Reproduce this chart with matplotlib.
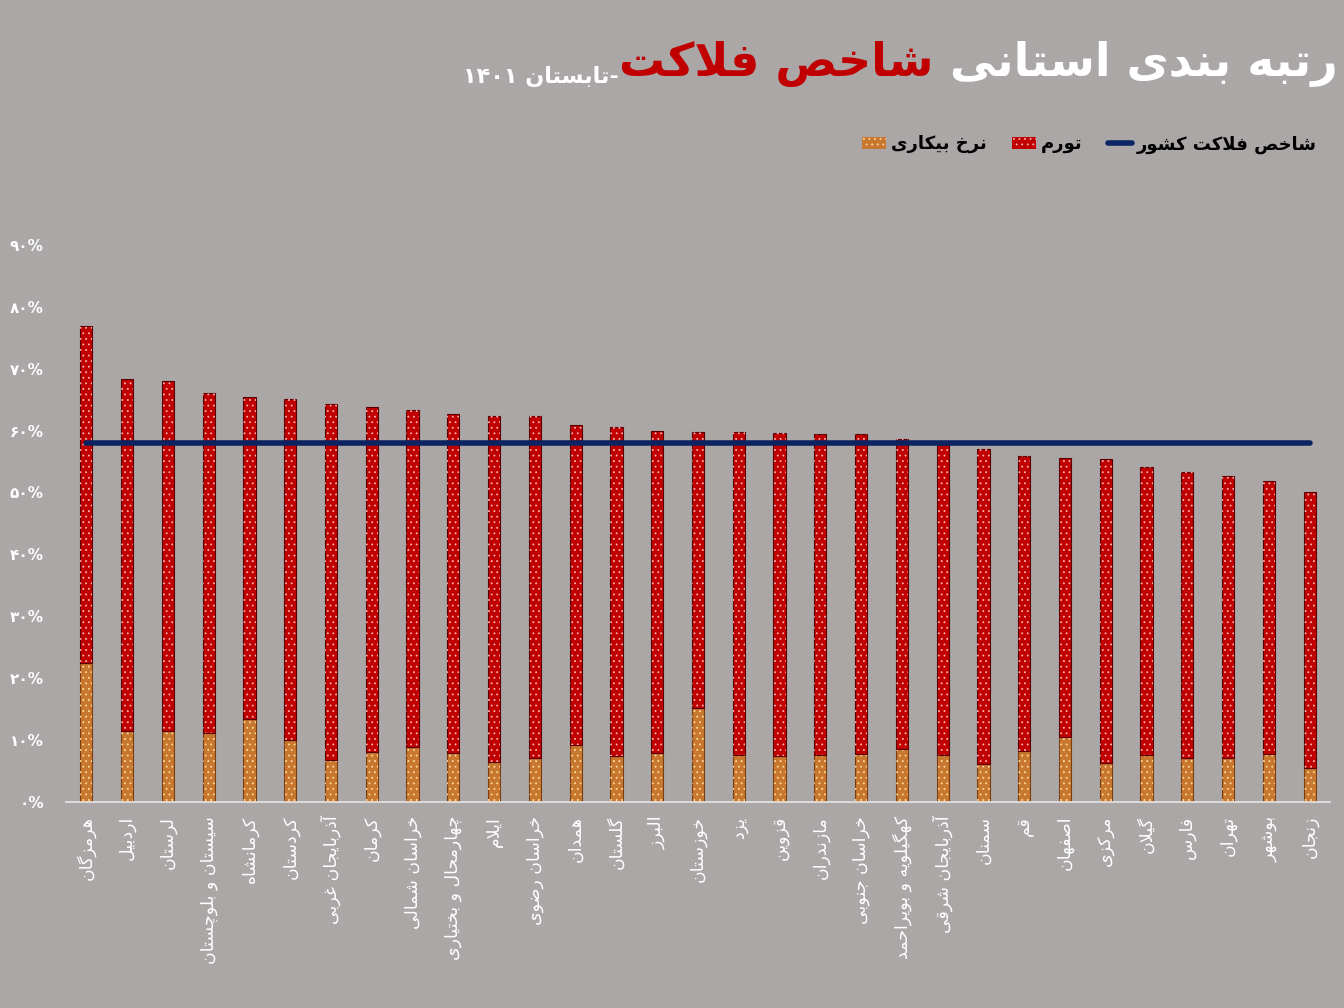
import re
import matplotlib
matplotlib.use("Agg")
import matplotlib.pyplot as plt
import matplotlib.patches as mpatches
import matplotlib.lines as mlines
import numpy as np

# داده ها
provinces = ["هرمزگان", "اردبیل", "لرستان", "سیستان و بلوچستان", "کرمانشاه", "کردستان",
             "آذربایجان غربی", "کرمان", "خراسان شمالی", "چهارمحال و بختیاری", "ایلام",
             "خراسان رضوی", "همدان", "گلستان", "البرز", "خوزستان", "یزد", "قزوین",
             "مازندران", "خراسان جنوبی", "کهگیلویه و بویراحمد", "آذربایجان شرقی", "سمنان",
             "قم", "اصفهان", "مرکزی", "گیلان", "فارس", "تهران", "بوشهر", "زنجان"]
unemployment = [22.5, 11.5, 11.5, 11.1, 13.4, 10.0, 6.8, 8.1, 8.9, 7.9, 6.5, 7.1, 9.2, 7.4,
                7.9, 15.2, 7.6, 7.4, 7.6, 7.8, 8.6, 7.6, 6.1, 8.2, 10.5, 6.3, 7.6, 7.1, 7.1,
                7.8, 5.5]
inflation = [54.4, 56.8, 56.5, 55.0, 52.0, 55.1, 57.5, 55.7, 54.4, 54.8, 55.9, 55.3, 51.7,
             53.2, 52.0, 44.6, 52.2, 52.2, 51.9, 51.7, 50.0, 50.0, 50.9, 47.7, 45.1, 49.1,
             46.5, 46.2, 45.6, 44.1, 44.6]
national = 58.0
yticks = [0, 10, 20, 30, 40, 50, 60, 70, 80, 90]

# شکل دادن حروف فارسی (matplotlib خودش این کار را نمی کند)
FORMS = {
    'ا': (0xFE8D, 0xFE8E), 'آ': (0xFE81, 0xFE82), 'د': (0xFEA9, 0xFEAA), 'ذ': (0xFEAB, 0xFEAC),
    'ر': (0xFEAD, 0xFEAE), 'ز': (0xFEAF, 0xFEB0), 'ژ': (0xFB8A, 0xFB8B), 'و': (0xFEED, 0xFEEE),
    'ب': (0xFE8F, 0xFE90, 0xFE91, 0xFE92), 'پ': (0xFB56, 0xFB57, 0xFB58, 0xFB59),
    'ت': (0xFE95, 0xFE96, 0xFE97, 0xFE98), 'ث': (0xFE99, 0xFE9A, 0xFE9B, 0xFE9C),
    'ج': (0xFE9D, 0xFE9E, 0xFE9F, 0xFEA0), 'چ': (0xFB7A, 0xFB7B, 0xFB7C, 0xFB7D),
    'ح': (0xFEA1, 0xFEA2, 0xFEA3, 0xFEA4), 'خ': (0xFEA5, 0xFEA6, 0xFEA7, 0xFEA8),
    'س': (0xFEB1, 0xFEB2, 0xFEB3, 0xFEB4), 'ش': (0xFEB5, 0xFEB6, 0xFEB7, 0xFEB8),
    'ص': (0xFEB9, 0xFEBA, 0xFEBB, 0xFEBC), 'ض': (0xFEBD, 0xFEBE, 0xFEBF, 0xFEC0),
    'ط': (0xFEC1, 0xFEC2, 0xFEC3, 0xFEC4), 'ظ': (0xFEC5, 0xFEC6, 0xFEC7, 0xFEC8),
    'ع': (0xFEC9, 0xFECA, 0xFECB, 0xFECC), 'غ': (0xFECD, 0xFECE, 0xFECF, 0xFED0),
    'ف': (0xFED1, 0xFED2, 0xFED3, 0xFED4), 'ق': (0xFED5, 0xFED6, 0xFED7, 0xFED8),
    'ک': (0xFB8E, 0xFB8F, 0xFB90, 0xFB91), 'گ': (0xFB92, 0xFB93, 0xFB94, 0xFB95),
    'ل': (0xFEDD, 0xFEDE, 0xFEDF, 0xFEE0), 'م': (0xFEE1, 0xFEE2, 0xFEE3, 0xFEE4),
    'ن': (0xFEE5, 0xFEE6, 0xFEE7, 0xFEE8), 'ه': (0xFEE9, 0xFEEA, 0xFEEB, 0xFEEC),
    'ی': (0xFBFC, 0xFBFD, 0xFBFE, 0xFBFF), 'ئ': (0xFE89, 0xFE8A, 0xFE8B, 0xFE8C),
}
LAM_ALEF = {'ا': (0xFEFB, 0xFEFC), 'آ': (0xFEF5, 0xFEF6)}


def fa(text):
    out = []
    i = 0
    prev_joins = False
    n = len(text)
    while i < n:
        c = text[i]
        if c not in FORMS:
            out.append(c)
            prev_joins = False
            i += 1
            continue
        if c == 'ل' and i + 1 < n and text[i + 1] in LAM_ALEF:
            f = LAM_ALEF[text[i + 1]]
            out.append(chr(f[1] if prev_joins else f[0]))
            prev_joins = False
            i += 2
            continue
        forms = FORMS[c]
        nxt = text[i + 1] if i + 1 < n else ''
        next_joins = len(forms) == 4 and nxt in FORMS
        if len(forms) == 2:
            out.append(chr(forms[1] if prev_joins else forms[0]))
        else:
            if prev_joins and next_joins:
                out.append(chr(forms[3]))
            elif prev_joins:
                out.append(chr(forms[1]))
            elif next_joins:
                out.append(chr(forms[2]))
            else:
                out.append(chr(forms[0]))
        prev_joins = len(forms) == 4
        i += 1
    s = ''.join(out)[::-1]
    return re.sub(r'[0-9۰-۹%]+', lambda m: m.group()[::-1], s)


def fa_digits(s):
    return s.translate(str.maketrans('0123456789', '۰۱۲۳۴۵۶۷۸۹'))


bg = '#aba7a7'
red = '#c00000'
orange = '#c8772e'

plt.rcParams['font.family'] = ['DejaVu Sans']
plt.rcParams['hatch.linewidth'] = 0.6

fig = plt.figure(figsize=(13.44, 10.08), dpi=100, facecolor=bg)
ax = fig.add_axes([0.0491, 0.2044, 0.9405, 0.6141])
ax.set_facecolor(bg)

x = np.arange(len(provinces))
w = 0.3
ax.bar(x, unemployment, w, color=orange, edgecolor='#7a3e10', linewidth=0.8)
ax.bar(x, unemployment, w, color='none', edgecolor='#ffd9a0', linewidth=0, hatch='...')
ax.bar(x, inflation, w, bottom=unemployment, color=red, edgecolor='#5a0000', linewidth=0.8)
ax.bar(x, inflation, w, bottom=unemployment, color='none', edgecolor='#ffb0b0',
       linewidth=0, hatch='...')

ax.plot([x[0], x[-1]], [national, national], color='#0b2461', lw=4,
        solid_capstyle='round', zorder=5)

ax.set_xlim(-0.5, len(provinces) - 0.5)
ax.set_ylim(0, 100)
ax.set_yticks(yticks)
ax.set_yticklabels([fa_digits(str(v)) + '%' for v in yticks], color='white',
                   fontsize=11, fontweight='bold')
ax.set_xticks(x)
ax.set_xticklabels([fa(p) for p in provinces], rotation=90, color='white', fontsize=12.5)
ax.tick_params(axis='y', length=0, pad=16)
ax.tick_params(axis='x', length=0, pad=10)
for s in ['top', 'right', 'left']:
    ax.spines[s].set_visible(False)
ax.spines['bottom'].set_color('#e6e6e6')
ax.spines['bottom'].set_linewidth(1.2)

# عنوان
t1 = fig.text(0.995, 0.925, fa('رتبه بندی استانی'), color='white', fontsize=33,
              fontweight='bold', ha='right', va='baseline')
t2 = ax.annotate(fa(' شاخص فلاکت'), xy=(0, 0), xycoords=t1, color=red, fontsize=33,
                 fontweight='bold', ha='right', va='bottom', annotation_clip=False)
t3 = ax.annotate(fa('-تابستان ۱۴۰۱'), xy=(0, 0), xycoords=t2, color='white', fontsize=16,
                 fontweight='bold', ha='right', va='bottom', annotation_clip=False)

# راهنما
h_un = mpatches.Patch(facecolor=orange, edgecolor='#ffd9a0', hatch='...', linewidth=0)
h_in = mpatches.Patch(facecolor=red, edgecolor='#ffb0b0', hatch='...', linewidth=0)
h_ln = mlines.Line2D([], [], color='#0b2461', lw=4, solid_capstyle='round')
fig.legend([h_un, h_in, h_ln], [fa('نرخ بیکاری'), fa('تورم'), fa('شاخص فلاکت کشور')],
           loc='upper right', bbox_to_anchor=(0.992, 0.882), ncol=3, frameon=False,
           handlelength=1.3, handletextpad=0.3, columnspacing=1.4,
           prop={'size': 13, 'weight': 'bold'})

fig.savefig('out.png', dpi=100, facecolor=bg)
